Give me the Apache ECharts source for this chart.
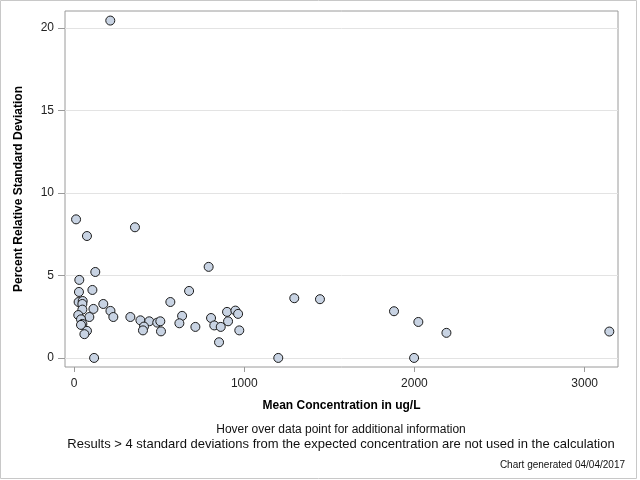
<!DOCTYPE html>
<html>
<head>
<meta charset="utf-8">
<script src="https://cdn.jsdelivr.net/npm/echarts@6/dist/echarts.min.js"></script>
<style>html,body{margin:0;padding:0;background:#fff}#c{width:640px;height:480px}</style>
</head>
<body>
<div id="c"></div>
<script>
var meanConc = [12, 76, 358, 125, 791, 31, 29, 108, 676, 27, 51, 49, 566, 172, 114, 49, 214, 25, 90, 231, 331, 41, 390, 442, 489, 507, 635, 619, 49, 41, 411, 405, 511, 713, 76, 61, 118, 805, 824, 862, 852, 899, 905, 948, 964, 971, 1200, 1294, 1445, 1880, 1998, 2023, 2188, 3145, 213];
var pctRSD   = [8.4, 7.39, 7.92, 5.21, 5.52, 4.73, 4.0, 4.12, 4.06, 3.39, 3.45, 3.27, 3.39, 3.27, 2.97, 2.93, 2.85, 2.6, 2.48, 2.48, 2.48, 2.34, 2.28, 2.22, 2.14, 2.22, 2.55, 2.1, 2.06, 2.0, 1.9, 1.67, 1.61, 1.88, 1.64, 1.44, 0, 2.42, 1.97, 1.88, 0.95, 2.79, 2.22, 2.87, 2.67, 1.67, 0, 3.62, 3.56, 2.83, 0, 2.18, 1.52, 1.6, 20.45];
var xTicks = [0, 1000, 2000, 3000];
var yTicks = [0, 5, 10, 15, 20];
var xTitle = 'Mean Concentration in ug/L';
var yTitle = 'Percent Relative Standard Deviation';
var footer1 = 'Hover over data point for additional information';
var footer2 = 'Results > 4 standard deviations from the expected concentration are not used in the calculation';
var footer3 = 'Chart generated 04/04/2017';

var pts = meanConc.map(function (x, i) { return [x, pctRSD[i]]; });
var chart = echarts.init(document.getElementById('c'), null, {renderer: 'canvas'});
var font = '"Liberation Sans", Arial, sans-serif';
chart.setOption({
  animation: false,
  grid: {left: 65, top: 11, right: 22, bottom: 113, show: true, borderColor: '#9a9a9a', borderWidth: 1, containLabel: false},
  xAxis: {
    type: 'value', min: -53, max: 3196,
    axisLine: {show: false, onZero: false},
    axisTick: {show: true, length: 5, lineStyle: {color: '#9a9a9a'}, customValues: xTicks},
    axisLabel: {customValues: xTicks, color: '#222', fontFamily: font, fontSize: 12, margin: 11,
      formatter: function (v) { return String(v); }},
    splitLine: {show: false},
    name: xTitle, nameLocation: 'middle', nameGap: 33,
    nameTextStyle: {fontFamily: font, fontSize: 12, fontWeight: 'bold', color: '#000'}
  },
  yAxis: {
    type: 'value', min: -0.55, max: 21.03,
    axisLine: {show: false, onZero: false},
    axisTick: {show: true, length: 7, lineStyle: {color: '#9a9a9a'}, customValues: yTicks},
    axisLabel: {customValues: yTicks, color: '#222', fontFamily: font, fontSize: 12, margin: 11},
    splitLine: {show: true, lineStyle: {color: '#e3e3e3'}},
    name: yTitle, nameLocation: 'middle', nameGap: 40,
    nameTextStyle: {fontFamily: font, fontSize: 12, fontWeight: 'bold', color: '#000'}
  },
  series: [{
    type: 'scatter', data: pts, symbol: 'circle', symbolSize: 9,
    itemStyle: {color: '#c8d3e3', borderColor: '#1a1a1a', borderWidth: 1, opacity: 1}
  }],
  graphic: [
    {type: 'rect', shape: {x: 0.5, y: 0.5, width: 636, height: 478}, style: {fill: 'none', stroke: '#c8c8c8', lineWidth: 1}, silent: true},
    {type: 'text', x: 341, y: 430, style: {text: footer1, font: '12px ' + font, fill: '#111', textAlign: 'center', textVerticalAlign: 'middle'}},
    {type: 'text', x: 341, y: 444, style: {text: footer2, font: '13px ' + font, fill: '#111', textAlign: 'center', textVerticalAlign: 'middle'}},
    {type: 'text', x: 625, y: 465, style: {text: footer3, font: '10px ' + font, fill: '#111', textAlign: 'right', textVerticalAlign: 'middle'}}
  ]
});
</script>
</body>
</html>
